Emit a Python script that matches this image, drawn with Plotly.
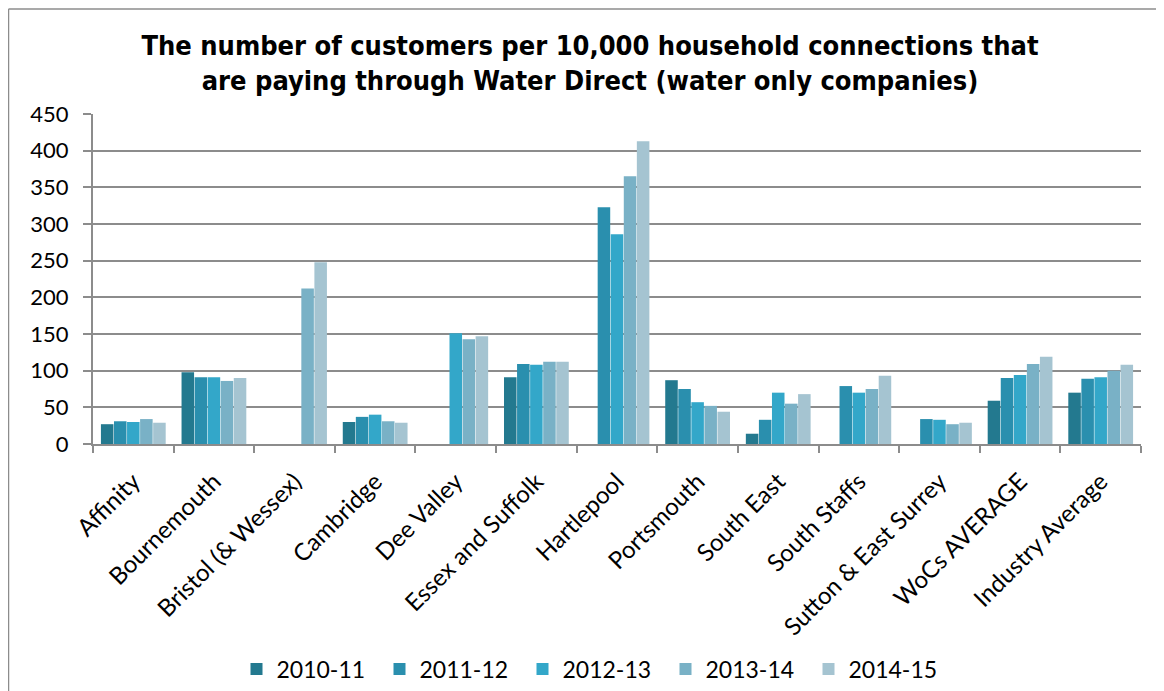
import plotly.graph_objects as go

categories = ["Affinity", "Bournemouth", "Bristol (& Wessex)", "Cambridge", "Dee Valley",
              "Essex and Suffolk", "Hartlepool", "Portsmouth", "South East", "South Staffs",
              "Sutton & East Surrey", "WoCs AVERAGE", "Industry Average"]

series_names = ["2010-11", "2011-12", "2012-13", "2013-14", "2014-15"]

v2010_11 = [27, 98, None, 30, None, 91, None, 87, 14, None, None, 59, 70]
v2011_12 = [31, 91, None, 37, None, 109, 323, 75, 33, 79, 34, 90, 89]
v2012_13 = [30, 91, None, 40, 151, 108, 286, 57, 70, 70, 33, 94, 91]
v2013_14 = [34, 86, 212, 31, 143, 112, 365, 52, 55, 75, 27, 109, 100]
v2014_15 = [29, 90, 248, 29, 147, 112, 413, 44, 68, 93, 29, 119, 108]

values = [v2010_11, v2011_12, v2012_13, v2013_14, v2014_15]
colors = ["#23798f", "#2a8fae", "#33a7c9", "#79b1c6", "#a5c4d1"]

fig = go.Figure()
for name, vals, col in zip(series_names, values, colors):
    fig.add_trace(go.Bar(x=categories, y=vals, name=name,
                         marker=dict(color=col, line=dict(width=0))))

# page body adds an 8px offset, so the figure is 8px smaller than the window
W, H = 1156, 683
L, R, T, B = 85, 23, 106, 247
pw = W - L - R
ph = H - T - B

def px_x(x):
    return (x - L) / pw

def px_y(y):
    return (H - B - y) / ph

fig.update_layout(
    width=W, height=H,
    margin=dict(l=L, r=R, t=T, b=B),
    paper_bgcolor="white", plot_bgcolor="white",
    barmode="group", bargap=0.19, bargroupgap=0.04,
    title=dict(
        text="The number of customers per 10,000 household connections that<br>are paying through Water Direct (water only companies)",
        font=dict(family="DejaVu Sans Condensed, DejaVu Sans", size=27, color="black", weight="bold"),
        x=582 / W, xanchor="center", xref="container",
        y=1 - 47 / H, yanchor="middle", yref="container",
    ),
    legend=dict(
        orientation="h", x=586 / W, xanchor="center", xref="container",
        y=1 - 661 / H, yanchor="middle", yref="container",
        font=dict(family="Lato", size=23, color="black"),
        itemwidth=30, tracegroupgap=0,
        entrywidth=98, entrywidthmode="pixels",
    ),
    font=dict(family="Lato", color="black"),
    xaxis=dict(
        tickangle=-45, tickfont=dict(family="Lato", size=24, color="black"),
        showline=True, linecolor="#8c8c8c", linewidth=2,
        ticks="outside", tickson="boundaries", ticklen=7, tickcolor="#8c8c8c", tickwidth=2,
        ticklabelstandoff=12,
        showgrid=False, automargin=False,
    ),
    yaxis=dict(
        range=[0, 450], dtick=50, tick0=0,
        tickfont=dict(family="Lato", size=22, color="black"),
        showline=True, linecolor="#8c8c8c", linewidth=2,
        ticks="outside", ticklen=8, tickcolor="#8c8c8c", tickwidth=2,
        ticklabelstandoff=10,
        showgrid=True, gridcolor="#8c8c8c", gridwidth=2,
        zeroline=False, automargin=False,
    ),
    shapes=[
        dict(type="line", xref="paper", yref="paper",
             x0=px_x(0.5), x1=px_x(0.5), y0=px_y(1), y1=px_y(H + 5),
             line=dict(color="#8c8c8c", width=1.5)),
        dict(type="line", xref="paper", yref="paper",
             x0=px_x(0.5), x1=px_x(W + 5), y0=px_y(1), y1=px_y(1),
             line=dict(color="#8c8c8c", width=1.5)),
    ],
)

fig.write_html("out.html")
